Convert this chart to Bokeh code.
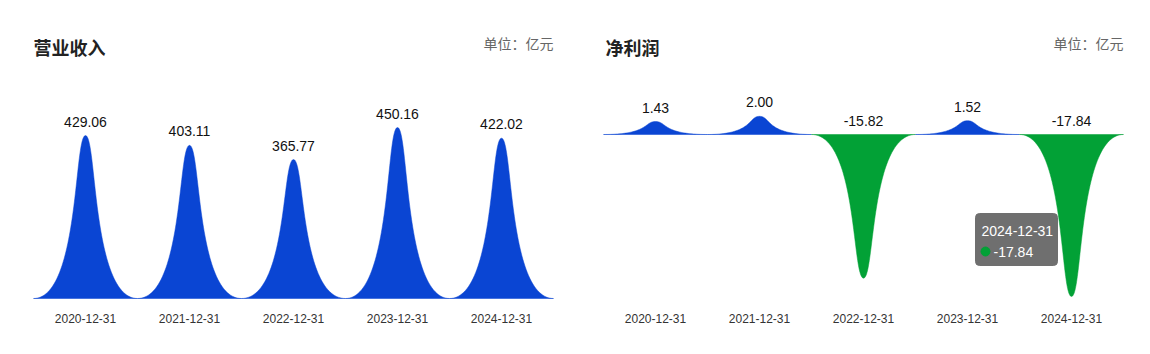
import numpy as np
from bokeh.plotting import figure
from bokeh.layouts import row
from bokeh.models import Range1d
from bokeh.core.properties import value
from bokeh.embed import file_html
from bokeh.resources import INLINE

# ---- data ----
dates = ["2020-12-31", "2021-12-31", "2022-12-31", "2023-12-31", "2024-12-31"]
revenue = [429.06, 403.11, 365.77, 450.16, 422.02]
net_profit = [1.43, 2.00, -15.82, 1.52, -17.84]
revenue_title = "营业收入"
profit_title = "净利润"
unit_text = "单位：亿元"
tooltip_date = "2024-12-31"
tooltip_value = "-17.84"

BLUE = "#0a45d3"
GREEN = "#02a136"
LATIN = "Liberation Sans"
CJK = "Noto Sans CJK SC"

W, H = 575, 354
CAT_PX = 104.0
CA, CB = 5.6, 6.1   # spike path control points


def spike(i, v, n=60):
    # path: M0,10 L10,10 C CA,10 CB,0 5,0 C (10-CB),0 (10-CA),10 0,10 z
    t = np.linspace(0, 1, n)
    def bez(p0, p1, p2, p3):
        return ((1 - t) ** 3)[:, None] * p0 + (3 * (1 - t) ** 2 * t)[:, None] * p1 + \
               (3 * (1 - t) * t ** 2)[:, None] * p2 + (t ** 3)[:, None] * p3
    a = bez(np.array([10, 10]), np.array([CA, 10]), np.array([CB, 0]), np.array([5, 0]))
    b = bez(np.array([5, 0]), np.array([10 - CB, 0]), np.array([10 - CA, 10]), np.array([0, 10]))
    pts = np.vstack([a, b[1:]])
    xs = i - 0.5 + pts[:, 0] / 10.0
    ys = v * (1 - pts[:, 1] / 10.0)
    return list(xs), list(ys)


def make_panel(values, title, center0_px, base_px, px_per_unit):
    x0 = -center0_px / CAT_PX
    x1 = (W - center0_px) / CAT_PX
    ytop = base_px / px_per_unit
    ybot = -(H - base_px) / px_per_unit
    def X(px):
        return x0 + px / CAT_PX
    def Y(py):
        return ytop - py / px_per_unit

    p = figure(width=W, height=H, output_backend="svg", toolbar_location=None,
               x_range=Range1d(x0, x1), y_range=Range1d(ybot, ytop),
               min_border=0, min_border_left=0, min_border_right=0,
               min_border_top=0, min_border_bottom=0)
    p.axis.visible = False
    p.grid.visible = False
    p.outline_line_color = None
    p.background_fill_color = "white"
    p.border_fill_color = "white"

    idx = list(range(len(values)))
    xs, ys, cols = [], [], []
    for i, v in zip(idx, values):
        sx, sy = spike(i, v)
        xs.append(sx)
        ys.append(sy)
        cols.append(BLUE if v >= 0 else GREEN)
    p.patches(xs=xs, ys=ys, fill_color=cols, line_color=cols, line_width=0.5)

    lab_y = [max(v, 0) for v in values]
    p.text(x=idx, y=lab_y, text=[f"{v:.2f}" for v in values], text_align="center",
           text_baseline="bottom", y_offset=-9, text_font=value(LATIN),
           text_font_size="14px", text_color="#111111")

    p.text(x=idx, y=[Y(318)] * len(idx), text=dates, text_align="center",
           text_baseline="middle", text_font=value(LATIN), text_font_size="12px",
           text_color="#333333")

    p.text(x=[X(title[1])], y=[Y(46)], text=[title[0]], text_align="left",
           text_baseline="middle", text_font=value(CJK), text_font_size="18px",
           text_font_style="bold", text_color="#222222")
    p.text(x=[X(title[2])], y=[Y(42)], text=[unit_text], text_align="right",
           text_baseline="middle", text_font=value(CJK), text_font_size="14px",
           text_color="#666666")
    return p, X, Y


left, LX, LY = make_panel(revenue, (revenue_title, 33, 553), 85, 298, 171.0 / 450.16)
right, RX, RY = make_panel(net_profit, (profit_title, 30, 548), 80, 134, 162.0 / 17.84)

# static tooltip (as in the screenshot)
bx0, bx1, by0, by1 = 975 - 575, 1057 - 575, 213, 265
right.quad(left=[RX(bx0)], right=[RX(bx1)], top=[RY(by0)], bottom=[RY(by1)],
           fill_color="#6f6f6f", line_color="#6f6f6f", border_radius=4)
right.text(x=[RX(bx0 + 6)], y=[RY(230)], text=[tooltip_date], text_align="left",
           text_baseline="middle", text_font=value(LATIN), text_font_size="14px",
           text_color="white")
right.scatter(x=[RX(bx0 + 10)], y=[RY(251)], size=9, fill_color=GREEN, line_color=GREEN)
right.text(x=[RX(bx0 + 18)], y=[RY(251)], text=[tooltip_value], text_align="left",
           text_baseline="middle", text_font=value(LATIN), text_font_size="14px",
           text_color="white")

layout = row(left, right, spacing=0)
open("out.html", "w").write(file_html(layout, INLINE))
